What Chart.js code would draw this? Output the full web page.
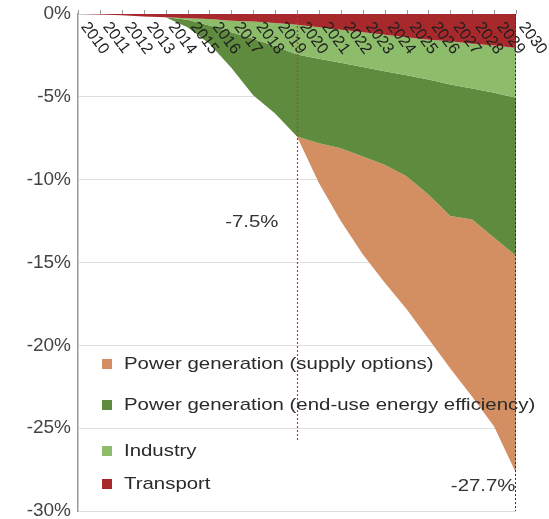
<!DOCTYPE html>
<html>
<head>
<meta charset="utf-8">
<script src="https://cdn.jsdelivr.net/npm/chart.js@4.4.0/dist/chart.umd.min.js"></script>
<style>
  html, body { margin: 0; padding: 0; background: #fff; }
</style>
</head>
<body>
<canvas id="chart" width="549" height="519"></canvas>
<script>
// years on the top axis
const years = [2010, 2011, 2012, 2013, 2014, 2015, 2016, 2017, 2018, 2019, 2020,
               2021, 2022, 2023, 2024, 2025, 2026, 2027, 2028, 2029, 2030];

// reduction per sector, % (stacked downwards)
const transport        = [0, -0.03, -0.08, -0.15, -0.2, -0.25, -0.3, -0.4, -0.45, -0.55, -0.65,
                          -0.8, -0.95, -1.1, -1.25, -1.4, -1.55, -1.65, -1.8, -1.9, -2.05];
const industry         = [0, 0, 0, 0, 0, -0.1, -0.4, -0.7, -1.05, -1.4, -1.8,
                          -1.9, -2.0, -2.1, -2.2, -2.3, -2.4, -2.6, -2.7, -2.85, -3.0];
const endUseEfficiency = [0, 0, 0, 0, 0, -0.45, -1.1, -2.15, -3.4, -4.05, -4.95,
                          -5.1, -5.15, -5.4, -5.65, -6.1, -6.95, -7.95, -7.9, -8.75, -9.55];
const supplyOptions    = [0, 0, 0, 0, 0, 0, 0, 0, 0, 0, 0,
                          -2.4, -4.4, -5.9, -7.1, -8.0, -8.7, -9.2, -10.7, -11.4, -13.1];

const seriesNames = ['Transport', 'Industry',
                     'Power generation (end-use energy efficiency)',
                     'Power generation (supply options)'];
const seriesColors = ['#a8292b', '#8dbd6b', '#5e8b3e', '#d38f61'];

// marked years and their totals
const markerYears = [2020, 2030];
const markerLabels = ['-7.5%', '-27.7%'];

const FONT = '"Liberation Sans", Arial, Helvetica, sans-serif';

// extra drawing: top ticks, rotated years, marker lines, labels, legend
const overlay = {
    id: 'overlay',
    afterDatasetsDraw(chart) {
        const ctx = chart.ctx;
        const xs = chart.scales.x;
        const ys = chart.scales.y;
        const area = chart.chartArea;

        ctx.save();
        // small ticks above the 0% line
        ctx.strokeStyle = '#999';
        ctx.lineWidth = 1;
        years.forEach((yr, i) => {
            const x = Math.round(xs.getPixelForValue(i)) + 0.5;
            ctx.beginPath();
            ctx.moveTo(x, area.top);
            ctx.lineTo(x, area.top - 4);
            ctx.stroke();
        });

        // year labels
        ctx.fillStyle = '#1e1e1e';
        ctx.font = '16px ' + FONT;
        ctx.textAlign = 'left';
        ctx.textBaseline = 'middle';
        years.forEach((yr, i) => {
            const x = xs.getPixelForValue(i);
            ctx.save();
            ctx.translate(x + 6, area.top + 10);
            ctx.rotate(53 * Math.PI / 180);
            ctx.fillText(String(yr), 0, 0);
            ctx.restore();
        });

        // dotted marker lines
        const x20 = Math.round(xs.getPixelForValue(years.indexOf(markerYears[0]))) + 0.5;
        const x30 = Math.round(xs.getPixelForValue(years.indexOf(markerYears[1]))) - 0.5;
        ctx.lineWidth = 1.2;
        ctx.setLineDash([2, 2]);
        ctx.strokeStyle = '#c4373b';
        ctx.beginPath();
        ctx.moveTo(x20, area.top);
        ctx.lineTo(x20, ys.getPixelForValue(-25.8));
        ctx.stroke();
        ctx.lineWidth = 1;
        ctx.strokeStyle = '#333';
        ctx.beginPath();
        ctx.moveTo(x30, area.top);
        ctx.lineTo(x30, area.bottom);
        ctx.stroke();
        ctx.setLineDash([]);

        // text with the wide look of the original
        const wideText = (txt, x, y, align) => {
            ctx.save();
            ctx.translate(x, y);
            ctx.scale(1.2, 1);
            ctx.textAlign = align;
            ctx.fillText(txt, 0, 0);
            ctx.restore();
        };

        ctx.fillStyle = '#333';
        ctx.font = '17px ' + FONT;
        ctx.textBaseline = 'middle';
        wideText(markerLabels[0], x20 - 19, ys.getPixelForValue(-12.6), 'right');
        wideText(markerLabels[1], x30, ys.getPixelForValue(-28.5), 'right');

        // legend, last series first
        const rowValues = [-21.1, -23.6, -26.4, -28.4];
        const order = [3, 2, 1, 0];
        order.forEach((d, r) => {
            const y = Math.round(ys.getPixelForValue(rowValues[r]));
            ctx.fillStyle = seriesColors[d];
            ctx.fillRect(area.left + 24, y - 5, 10, 10);
            ctx.fillStyle = '#2a2a2a';
            wideText(seriesNames[d], area.left + 46, y, 'left');
        });
        ctx.restore();
    }
};

const seriesData = [transport, industry, endUseEfficiency, supplyOptions];

const datasets = seriesData.map((vals, i) => ({
    label: seriesNames[i],
    data: vals,
    backgroundColor: seriesColors[i],
    borderColor: seriesColors[i],
    borderWidth: 0,
    pointRadius: 0,
    tension: 0,
    fill: i === 0 ? 'origin' : '-1'
}));

const ctx = document.getElementById('chart').getContext('2d');

new Chart(ctx, {
    type: 'line',
    data: { labels: years, datasets: datasets },
    options: {
        responsive: false,
        animation: false,
        layout: { padding: { top: 14, right: 33, bottom: 8, left: 0 } },
        plugins: {
            legend: { display: false },
            tooltip: { enabled: false }
        },
        scales: {
            x: {
                type: 'category',
                offset: false,
                display: false,
                stacked: true
            },
            y: {
                stacked: true,
                min: -30,
                max: 0,
                afterFit: s => {
                    s.width = 78;
                    s.paddingTop = 0;
                    s.paddingBottom = 0;
                },
                ticks: {
                    stepSize: 5,
                    padding: 7,
                    color: '#444',
                    font: { family: FONT, size: 19 },
                    callback: v => v + '%'
                },
                grid: { color: '#dedede', drawTicks: false },
                border: { color: '#999', width: 1.5 }
            }
        }
    },
    plugins: [overlay]
});
</script>
</body>
</html>
